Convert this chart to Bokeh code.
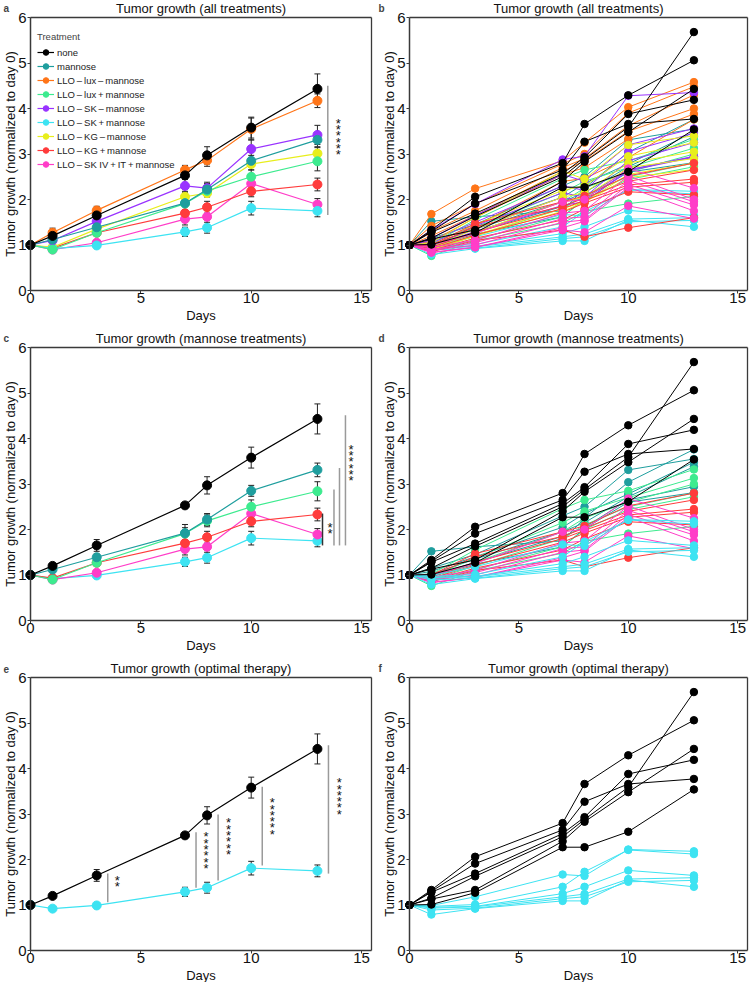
import numpy as np
from bokeh.embed import file_html
from bokeh.layouts import gridplot
from bokeh.models import (ColumnDataSource, FixedTicker, Label, Legend, LegendItem,
                          Range1d, TeeHead, Whisker)
from bokeh.plotting import figure
from bokeh.resources import INLINE

FONT = "Liberation Sans"
TS = "\u2009"  # thin space used around the signs in treatment names

days = [0, 1, 3, 7, 8, 10, 13]

treatments = [
    "none",
    "mannose",
    f"LLO{TS}–{TS}lux{TS}–{TS}mannose",
    f"LLO{TS}–{TS}lux{TS}+{TS}mannose",
    f"LLO{TS}–{TS}SK{TS}–{TS}mannose",
    f"LLO{TS}–{TS}SK{TS}+{TS}mannose",
    f"LLO{TS}–{TS}KG{TS}–{TS}mannose",
    f"LLO{TS}–{TS}KG{TS}+{TS}mannose",
    f"LLO{TS}–{TS}SK IV{TS}+{TS}IT{TS}+{TS}mannose",
]
colors = ["#000000", "#1F9E9E", "#FF7518", "#3DEB8F", "#9933FF",
          "#3DE3F2", "#E8EE1C", "#FF3B3B", "#FF3DC8"]

# group means (tumor size normalized to day 0) and SEM
mean_none = [1.00, 1.20, 1.65, 2.53, 2.97, 3.58, 4.43]
sem_none = [0.00, 0.05, 0.13, 0.06, 0.19, 0.23, 0.33]
mean_mannose = [1.00, 1.12, 1.39, 1.92, 2.22, 2.85, 3.31]
sem_mannose = [0.00, 0.05, 0.07, 0.19, 0.13, 0.12, 0.15]
mean_lux_minus = [1.00, 1.27, 1.76, 2.65, 2.86, 3.55, 4.17]
sem_lux_minus = [0.00, 0.10, 0.09, 0.10, 0.13, 0.24, 0.15]
mean_lux_plus = [1.00, 0.90, 1.27, 1.91, 2.19, 2.50, 2.84]
sem_lux_plus = [0.00, 0.04, 0.07, 0.13, 0.13, 0.15, 0.21]
mean_sk_minus = [1.00, 1.10, 1.52, 2.30, 2.25, 3.11, 3.42]
sem_sk_minus = [0.00, 0.06, 0.09, 0.14, 0.13, 0.20, 0.21]
mean_sk_plus = [1.00, 0.92, 0.99, 1.29, 1.38, 1.81, 1.75]
sem_sk_plus = [0.00, 0.03, 0.03, 0.10, 0.12, 0.15, 0.13]
mean_kg_minus = [1.00, 0.95, 1.35, 2.06, 2.14, 2.78, 3.01]
sem_kg_minus = [0.00, 0.03, 0.06, 0.12, 0.08, 0.13, 0.13]
mean_kg_plus = [1.00, 0.93, 1.27, 1.70, 1.83, 2.18, 2.33]
sem_kg_plus = [0.00, 0.04, 0.06, 0.14, 0.13, 0.12, 0.14]
mean_sk_ivit = [1.00, 0.90, 1.05, 1.57, 1.62, 2.35, 1.89]
sem_sk_ivit = [0.00, 0.03, 0.05, 0.13, 0.18, 0.10, 0.13]

# individual mice, one row per animal, values at each measurement day
mice_none = [
    [1.00, 1.33, 2.06, 2.80, 3.66, 4.29, 5.06],
    [1.00, 1.30, 1.91, 2.65, 3.27, 3.66, 3.77],
    [1.00, 1.28, 1.69, 2.57, 2.93, 3.88, 4.19],
    [1.00, 1.15, 1.63, 2.50, 2.88, 3.59, 5.68],
    [1.00, 1.13, 1.33, 2.40, 2.83, 3.48, 4.43],
    [1.00, 1.01, 1.27, 2.27, 2.27, 2.61, 3.54],
]
mice_mannose = [
    [1.00, 1.52, 1.62, 1.75, 2.25, 3.04, 3.76],
    [1.00, 1.15, 1.45, 2.30, 2.50, 3.31, 3.55],
    [1.00, 1.08, 1.40, 2.05, 2.35, 2.78, 3.48],
    [1.00, 1.02, 1.35, 1.95, 2.15, 2.72, 3.38],
    [1.00, 0.98, 1.28, 1.85, 2.05, 2.65, 2.94],
    [1.00, 0.97, 1.24, 1.62, 2.02, 2.60, 2.81],
]
mice_lux_minus = [
    [1.00, 1.68, 2.24, 2.85, 3.25, 4.03, 4.58],
    [1.00, 1.42, 1.90, 2.78, 3.00, 3.90, 4.48],
    [1.00, 1.30, 1.75, 2.70, 2.90, 3.62, 4.30],
    [1.00, 1.20, 1.65, 2.62, 2.85, 3.50, 4.00],
    [1.00, 1.08, 1.60, 2.55, 2.70, 3.33, 3.88],
    [1.00, 0.95, 1.42, 2.40, 2.46, 2.92, 3.76],
]
mice_lux_plus = [
    [1.00, 1.02, 1.55, 2.46, 2.65, 2.85, 3.32],
    [1.00, 0.96, 1.38, 2.15, 2.40, 2.70, 3.13],
    [1.00, 0.91, 1.28, 1.95, 2.25, 2.60, 3.00],
    [1.00, 0.89, 1.20, 1.80, 2.10, 2.50, 2.80],
    [1.00, 0.86, 1.12, 1.62, 2.00, 2.44, 2.72],
    [1.00, 0.76, 1.09, 1.48, 1.74, 1.91, 2.07],
]
mice_sk_minus = [
    [1.00, 1.33, 1.90, 2.88, 2.95, 4.28, 4.35],
    [1.00, 1.15, 1.65, 2.55, 2.40, 3.20, 3.56],
    [1.00, 1.10, 1.50, 2.30, 2.20, 3.05, 3.46],
    [1.00, 1.05, 1.42, 2.15, 2.05, 2.85, 3.25],
    [1.00, 1.00, 1.35, 2.05, 1.95, 2.65, 2.95],
    [1.00, 0.97, 1.30, 1.87, 1.95, 2.63, 2.93],
]
mice_sk_plus = [
    [1.00, 0.99, 1.18, 1.67, 1.64, 2.22, 2.18],
    [1.00, 0.97, 1.01, 1.40, 1.73, 2.21, 2.12],
    [1.00, 0.95, 0.97, 1.25, 1.40, 1.76, 1.65],
    [1.00, 0.93, 0.96, 1.18, 1.24, 1.57, 1.60],
    [1.00, 0.89, 0.93, 1.14, 1.18, 1.51, 1.54],
    [1.00, 0.79, 0.92, 1.09, 1.09, 1.55, 1.40],
]
mice_kg_minus = [
    [1.00, 1.05, 1.60, 2.62, 2.45, 3.20, 3.40],
    [1.00, 1.00, 1.45, 2.20, 2.30, 2.95, 3.25],
    [1.00, 0.95, 1.35, 2.05, 2.15, 2.80, 3.05],
    [1.00, 0.92, 1.28, 1.95, 2.05, 2.70, 2.90],
    [1.00, 0.90, 1.22, 1.80, 1.95, 2.55, 2.80],
    [1.00, 0.88, 1.20, 1.74, 1.94, 2.48, 2.66],
]
mice_kg_plus = [
    [1.00, 1.00, 1.47, 1.95, 2.08, 2.52, 2.80],
    [1.00, 0.98, 1.40, 1.85, 2.03, 2.40, 2.65],
    [1.00, 0.95, 1.28, 1.80, 1.98, 2.32, 2.45],
    [1.00, 0.92, 1.22, 1.72, 1.92, 2.27, 2.38],
    [1.00, 0.88, 1.15, 1.55, 1.79, 2.17, 2.10],
    [1.00, 0.85, 1.10, 1.33, 1.18, 1.38, 1.60],
]
mice_sk_ivit = [
    [1.00, 1.00, 1.25, 1.95, 2.00, 2.68, 2.25],
    [1.00, 0.95, 1.10, 1.70, 1.75, 2.52, 2.00],
    [1.00, 0.90, 1.05, 1.58, 1.62, 2.42, 1.95],
    [1.00, 0.88, 1.00, 1.50, 1.55, 2.33, 1.88],
    [1.00, 0.84, 0.95, 1.38, 1.52, 2.27, 1.75],
    [1.00, 0.83, 0.95, 1.33, 1.28, 1.86, 1.58],
]

means = [mean_none, mean_mannose, mean_lux_minus, mean_lux_plus, mean_sk_minus,
         mean_sk_plus, mean_kg_minus, mean_kg_plus, mean_sk_ivit]
sems = [sem_none, sem_mannose, sem_lux_minus, sem_lux_plus, sem_sk_minus,
        sem_sk_plus, sem_kg_minus, sem_kg_plus, sem_sk_ivit]
mice = [mice_none, mice_mannose, mice_lux_minus, mice_lux_plus, mice_sk_minus,
        mice_sk_plus, mice_kg_minus, mice_kg_plus, mice_sk_ivit]

# which groups are shown in each study
groups_all = [0, 1, 2, 3, 4, 5, 6, 7, 8]
groups_mannose = [0, 1, 3, 7, 8, 5]
groups_optimal = [0, 5]

# significance bars: (x, low, high, colour) and star labels: (x, y, text)
sig_a_lines = [(13.47, 1.66, 4.50, "#9a9a9a")]
sig_a_stars = [(13.95, 3.33, "******")]
sig_c_lines = [(13.23, 1.65, 2.35, "#333333"), (13.75, 1.65, 2.88, "#9a9a9a"),
               (14.00, 1.65, 3.35, "#9a9a9a"), (14.27, 1.65, 4.51, "#9a9a9a")]
sig_c_stars = [(13.57, 1.98, "**"), (14.52, 3.42, "******")]
sig_e_lines = [(3.5, 1.06, 1.69, "#9a9a9a"), (7.5, 1.38, 2.60, "#9a9a9a"),
               (8.5, 1.54, 2.99, "#9a9a9a"), (10.5, 1.87, 3.60, "#9a9a9a"),
               (13.5, 1.69, 4.51, "#9a9a9a")]
sig_e_stars = [(3.93, 1.47, "**"), (7.95, 2.15, "******"), (8.97, 2.46, "******"),
               (10.96, 2.90, "******"), (13.99, 3.34, "******")]

X_MAX = 15.45
Y_MAX = 6
PANEL_W = 375
BOX_TOP, BOX_BOTTOM = 17, 290  # pixel rows of the plotting box inside each panel


def make_panel(title, letter, right_col, bottom_row):
    # the frame fills the whole panel; axes are pinned at x=0 / y=0 so the
    # title and panel letter can live inside the same drawing area
    left = 34 if right_col else 30
    right = 372 if right_col else 371
    height = 322 if bottom_row else 330
    dx = X_MAX / (right - left)
    dy = Y_MAX / (BOX_BOTTOM - BOX_TOP)
    p = figure(width=PANEL_W, height=height,
               x_range=Range1d(-left * dx, X_MAX + (PANEL_W - right) * dx),
               y_range=Range1d(-(height - BOX_BOTTOM) * dy, Y_MAX + BOX_TOP * dy),
               output_backend="svg", toolbar_location=None, min_border=0)
    p.outline_line_color = None
    p.xgrid.visible = False
    p.ygrid.visible = False
    p.xaxis.ticker = FixedTicker(ticks=[0, 5, 10, 15])
    p.yaxis.ticker = FixedTicker(ticks=[0, 1, 2, 3, 4, 5, 6])
    p.xaxis.fixed_location = 0
    p.yaxis.fixed_location = 0
    p.xaxis.bounds = (0, X_MAX)
    p.yaxis.bounds = (0, Y_MAX)
    p.xaxis.axis_label = "Days"
    p.yaxis.axis_label = "Tumor growth (normalized to day 0)"
    for ax in (p.xaxis, p.yaxis):
        ax.axis_line_color = "#3a3a3a"
        ax.axis_line_width = 1.5
        ax.major_tick_line_color = "#3a3a3a"
        ax.major_tick_in = 0
        ax.major_tick_out = 3
        ax.minor_tick_line_color = None
        ax.major_label_text_font = FONT
        ax.major_label_text_font_size = "15px"
        ax.major_label_text_color = "#111111"
        ax.axis_label_text_font = FONT
        ax.axis_label_text_font_size = "13px"
        ax.axis_label_text_font_style = "normal"
        ax.axis_label_text_color = "#111111"
    p.xaxis.major_label_standoff = -1
    p.xaxis.axis_label_standoff = 2
    p.yaxis.major_label_standoff = 1
    p.yaxis.axis_label_standoff = -3
    # top and right edges of the plotting box
    p.segment(x0=[0, X_MAX], y0=[Y_MAX, 0], x1=[X_MAX, X_MAX], y1=[Y_MAX, Y_MAX],
              line_color="#3a3a3a", line_width=1.3)
    p.add_layout(Label(x=(left + right) / 2, y=height - 8, x_units="screen", y_units="screen",
                       text=title, text_font=FONT, text_font_size="13px",
                       text_align="center", text_baseline="middle", text_color="#111111"))
    p.add_layout(Label(x=3, y=height - 8, x_units="screen", y_units="screen",
                       text=letter, text_font=FONT, text_font_size="10px",
                       text_font_style="bold", text_baseline="middle"))
    return p


def draw_means(p, groups, size=9):
    handles = {}
    for g in reversed(groups):
        upper = [m + s for m, s in zip(means[g], sems[g])]
        lower = [m - s for m, s in zip(means[g], sems[g])]
        src = ColumnDataSource(dict(x=days, y=means[g], upper=upper, lower=lower))
        ln = p.line("x", "y", source=src, line_color=colors[g], line_width=1.2)
        sc = p.scatter("x", "y", source=src, size=size, fill_color=colors[g],
                       line_color=colors[g])
        wh = Whisker(source=src, base="x", upper="upper", lower="lower",
                     line_color="#222222", line_width=1,
                     upper_head=TeeHead(size=6, line_color="#222222", line_width=1),
                     lower_head=TeeHead(size=6, line_color="#222222", line_width=1))
        p.add_layout(wh)
        handles[g] = (ln, sc)
    return handles


def draw_mice(p, groups, size=7.5):
    order = [g for g in groups if g != 0] + [0]
    for g in order:
        for m in mice[g]:
            src = ColumnDataSource(dict(x=days, y=m))
            p.line("x", "y", source=src, line_color=colors[g], line_width=1)
            p.scatter("x", "y", source=src, size=size, fill_color=colors[g],
                      line_color=colors[g])


def draw_sig(p, lines, stars):
    src = ColumnDataSource(dict(x=[l[0] for l in lines], y0=[l[1] for l in lines],
                                y1=[l[2] for l in lines], c=[l[3] for l in lines]))
    p.segment(x0="x", y0="y0", x1="x", y1="y1", source=src, line_color="c", line_width=1.5)
    for (x, y, t) in stars:
        # stars stacked in a vertical column
        p.add_layout(Label(x=x, y=y, text="\n".join(t), text_align="center",
                           text_baseline="middle", text_font=FONT, text_font_size="13px",
                           text_line_height=0.42, text_color="#111111"))


# a: group means, all treatments, with legend
pa = make_panel("Tumor growth (all treatments)", "a", False, False)
ha = draw_means(pa, groups_all)
draw_sig(pa, sig_a_lines, sig_a_stars)
items = [LegendItem(label=treatments[g], renderers=list(ha[g])) for g in groups_all]
legend = Legend(items=items, location=(37, 159), title="Treatment",
                title_text_font=FONT, title_text_font_size="9.5px", title_standoff=3,
                title_text_font_style="normal",
                label_text_font=FONT, label_text_font_size="9.5px", label_text_color="#222222",
                label_height=14, glyph_height=14, glyph_width=17, label_standoff=3,
                spacing=0, padding=0, margin=0, border_line_alpha=0,
                background_fill_alpha=0)
pa.add_layout(legend)

# b: individual animals, all treatments
pb = make_panel("Tumor growth (all treatments)", "b", True, False)
draw_mice(pb, groups_all)

# c: group means, mannose treatments
pc = make_panel("Tumor growth (mannose treatments)", "c", False, False)
draw_means(pc, groups_mannose)
draw_sig(pc, sig_c_lines, sig_c_stars)

# d: individual animals, mannose treatments
pd_ = make_panel("Tumor growth (mannose treatments)", "d", True, False)
draw_mice(pd_, groups_mannose)

# e: group means, optimal therapy
pe = make_panel("Tumor growth (optimal therapy)", "e", False, True)
draw_means(pe, groups_optimal)
draw_sig(pe, sig_e_lines, sig_e_stars)

# f: individual animals, optimal therapy
pf = make_panel("Tumor growth (optimal therapy)", "f", True, True)
draw_mice(pf, groups_optimal)

grid = gridplot([[pa, pb], [pc, pd_], [pe, pf]], toolbar_location=None)
open("out.html", "w").write(file_html(grid, INLINE))
